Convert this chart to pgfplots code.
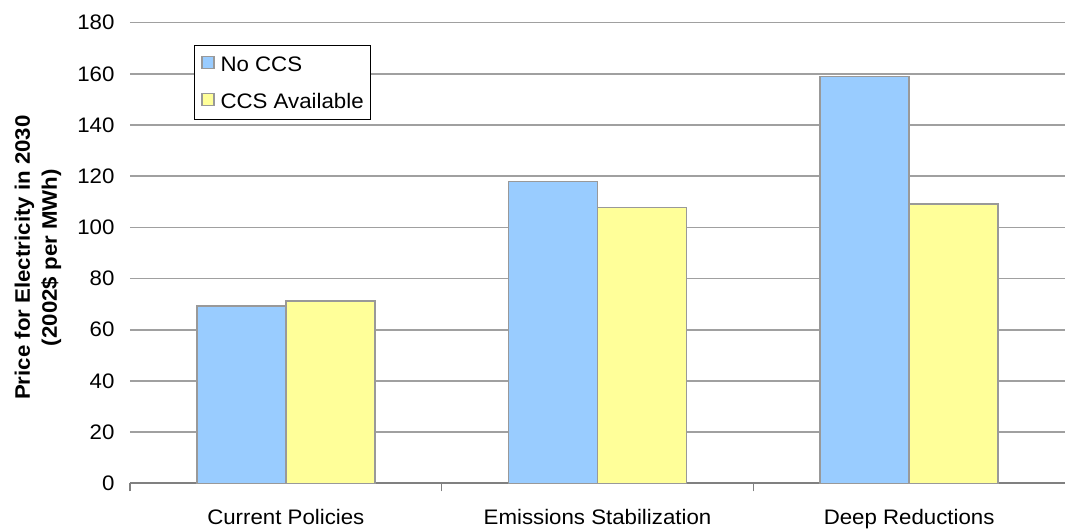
\documentclass[border=0pt]{standalone}
\usepackage{fontspec}
\setmainfont[FakeStretch=1.06]{Liberation Sans}
\usepackage{pgfplots}
\pgfplotsset{compat=1.18}
\definecolor{barblue}{HTML}{99CCFF}
\definecolor{baryellow}{HTML}{FFFF99}
\definecolor{edgegray}{HTML}{999999}
\definecolor{gridgray}{HTML}{A0A0A0}
\definecolor{axisgray}{HTML}{808080}
\newcommand{\chartfont}{\fontsize{21}{25}\selectfont}
\begin{document}
\begin{tikzpicture}
\path[use as bounding box] (0pt,0pt) rectangle (1065pt,529pt);
\begin{axis}[
  at={(130pt,45.7pt)}, anchor=south west,
  scale only axis, width=935pt, height=460.6pt,
  xmin=-0.5, xmax=2.5, ymin=0, ymax=180,
  ytick={0,20,...,180},
  xtick={0,1,2},
  xticklabels={Current Policies, Emissions Stabilization, Deep Reductions},
  minor xtick={-0.5,0.5,1.5},
  axis x line=bottom, axis y line=left,
  y axis line style={draw=none},
  x axis line style={axisgray, line width=2pt, -},
  major x tick style={draw=none},
  minor x tick style={axisgray, line width=1.5pt},
  minor tick length=8pt,
  major tick length=0pt,
  tick align=outside,
  ymajorgrids,
  major grid style={gridgray, line width=1.5pt},
  /pgf/number format/assume math mode=true,
  tick label style={font=\chartfont, black},
  yticklabel style={xshift=-12pt},
  xticklabel style={yshift=-22pt},
  ylabel={Price for Electricity in 2030\\(2002\$ per MWh)},
  ylabel style={font=\fontsize{21}{27}\selectfont\bfseries, align=center,
    at={(axis description cs:-0.0984,0.49)}, anchor=center},
  ybar=0pt, bar width=89pt,
  legend style={at={(rel axis cs:0.0684,0.9516)}, anchor=north west,
    draw=black, line width=0.8pt, font=\chartfont,
    cells={anchor=west},
    nodes={inner sep=0pt, text height=18pt, text depth=3pt},
    row sep=16pt, column sep=6pt,
    inner xsep=7pt, inner ysep=8pt},
  legend image code/.code={
    \draw[#1, draw=edgegray, line width=1.2pt] (0pt,-5pt) rectangle (12pt,7pt);},
]
\addplot[fill=barblue, draw=edgegray, line width=1.5pt]
  coordinates {(0,69.3) (1,118.0) (2,158.9)};
\addplot[fill=baryellow, draw=edgegray, line width=1.5pt]
  coordinates {(0,71.2) (1,107.7) (2,109.1)};
\legend{No CCS, CCS Available}
\end{axis}
\end{tikzpicture}
\end{document}
